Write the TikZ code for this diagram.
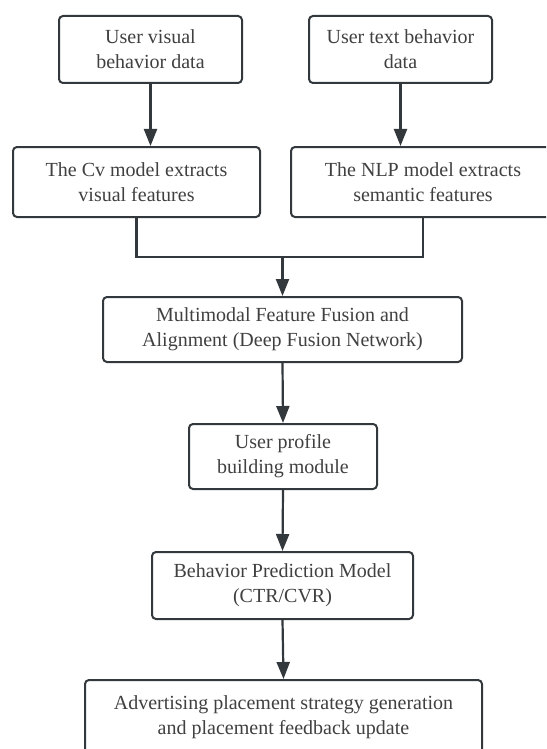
\documentclass[tikz,border=0pt]{standalone}
\usepackage{fontspec}
\setmainfont{Liberation Serif}
\usetikzlibrary{arrows.meta}
\definecolor{edgec}{HTML}{33383D}
\definecolor{txtc}{HTML}{404040}
\tikzset{
  box/.style={draw=edgec, line width=2pt, rounded corners=4pt, fill=white,
    align=center, inner sep=0pt, text=txtc,
    font=\fontsize{20}{25}\selectfont},
  link/.style={draw=edgec, line width=2.2pt},
  arr/.style={link, -{Triangle[length=17pt,width=13pt]}}
}
\begin{document}
\begin{tikzpicture}[x=1pt,y=-1pt]
  \useasboundingbox (0,0) rectangle (546,749);
  \clip (0,0) rectangle (546,749);
  \fill[white] (0,0) rectangle (546,749);

  % input data
  \node[box, minimum width=183pt, minimum height=67pt] (vis) at (150.5,49.5)
    {User visual\\behavior data};
  \node[box, minimum width=183pt, minimum height=67pt] (txt) at (400.5,49.5)
    {User text behavior\\data};

  % feature extractors
  \node[box, minimum width=247pt, minimum height=70pt] (cv) at (136.5,182)
    {The Cv model extracts\\visual features};
  \node[box, minimum width=264pt, minimum height=70pt] (nlp) at (423,182)
    {The NLP model extracts\\semantic features};

  % fusion and downstream pipeline
  \node[box, minimum width=359pt, minimum height=65pt] (fus) at (282.5,329.5)
    {Multimodal Feature Fusion and\\Alignment (Deep Fusion Network)};
  \node[box, minimum width=188pt, minimum height=65pt] (prof) at (283,456.5)
    {User profile\\building module};
  \node[box, minimum width=261pt, minimum height=67pt] (pred) at (282.5,585.5)
    {Behavior Prediction Model\\(CTR/CVR)};
  \node[box, minimum width=397pt, minimum height=75pt] (adv) at (283.5,717.5)
    {Advertising placement strategy generation\\and placement feedback update};

  % connectors
  \draw[arr] (vis.south) -- (vis.south |- cv.north);
  \draw[arr] (txt.south) -- (txt.south |- nlp.north);
  \coordinate (merge) at (282.5,257);
  \draw[link] (cv.south) |- (nlp.south |- merge) -- (nlp.south);
  \draw[arr] (merge) -- (fus.north);
  \draw[arr] (fus.south) -- (prof.north);
  \draw[arr] (prof.south) -- (pred.north);
  \draw[arr] (pred.south) -- (adv.north);
\end{tikzpicture}
\end{document}
